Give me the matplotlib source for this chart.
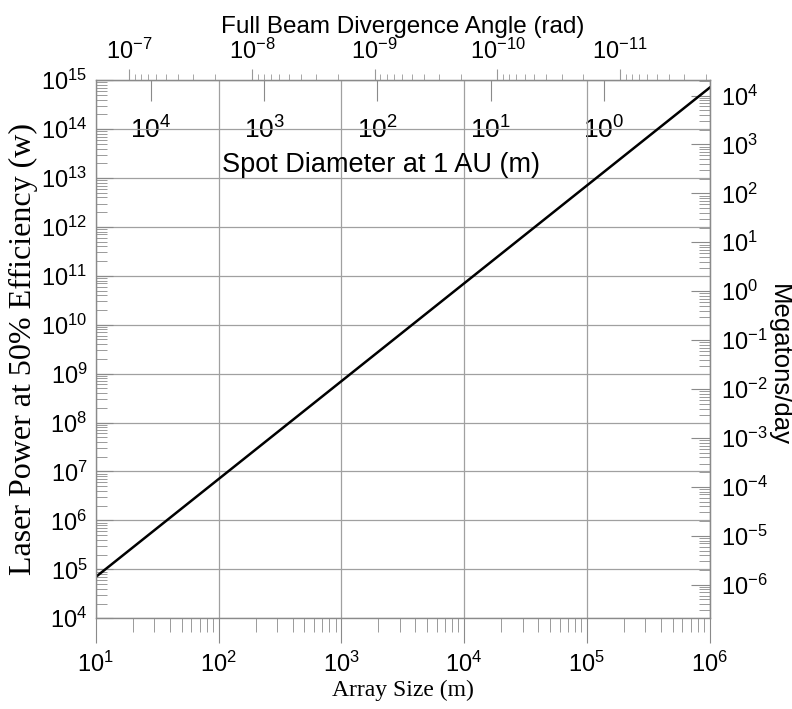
import numpy as np
import matplotlib
matplotlib.use('Agg')
import matplotlib.pyplot as plt
from matplotlib.ticker import LogLocator, NullLocator, FixedLocator, NullFormatter

# data
array_size = [1e1, 1e6]          # m
laser_power = [7e4, 7e14]        # W at 50% efficiency
x_ticks = [1e1, 1e2, 1e3, 1e4, 1e5, 1e6]
y_ticks = [1e4, 1e5, 1e6, 1e7, 1e8, 1e9, 1e10, 1e11, 1e12, 1e13, 1e14, 1e15]
mt_ticks = [1e-6, 1e-5, 1e-4, 1e-3, 1e-2, 1e-1, 1e0, 1e1, 1e2, 1e3, 1e4]
angle_ticks = [1e-7, 1e-8, 1e-9, 1e-10, 1e-11]
spot_ticks = [1e4, 1e3, 1e2, 1e1, 1e0]

# conversions as drawn on the figure
ANGLE_C = 1.87e-6                 # rad * m
SPOT_K, SPOT_EXP = 10**5.57, 1.084
MT_PER_W = 86400 / 4.184e15       # megatons/day per watt

plt.rcParams['mathtext.fontset'] = 'custom'
plt.rcParams['mathtext.rm'] = 'Liberation Sans'
plt.rcParams['axes.unicode_minus'] = False


def sup(v):
    return r'$\mathregular{10^{%d}}$' % int(round(np.log10(v)))


sans = 'Liberation Sans'
serif = 'Liberation Serif'
tick_fs = 17
grey = '#8a8a8a'

fig = plt.figure(figsize=(7.92, 7.09), dpi=100)
ax = fig.add_axes([0.121, 0.128, 0.775, 0.759])

ax.plot(array_size, laser_power, color='black', lw=1.8)
ax.set_xscale('log')
ax.set_yscale('log')
ax.set_xlim(1e1, 1e6)
ax.set_ylim(1e4, 1e15)
ax.grid(True, which='major', color='#a0a0a0', lw=0.9)
for s in ax.spines.values():
    s.set_color(grey)
    s.set_linewidth(1.0)

ax.xaxis.set_major_locator(FixedLocator(x_ticks))
ax.xaxis.set_minor_locator(LogLocator(base=10, subs=np.arange(2, 10)))
ax.set_xticklabels([sup(v) for v in x_ticks], fontsize=tick_fs, family=sans)
ax.xaxis.set_minor_formatter(NullFormatter())
ax.tick_params(axis='x', which='major', direction='out', length=18, color=grey, pad=6)
ax.tick_params(axis='x', which='minor', direction='out', length=10, color=grey)
ax.tick_params(axis='x', top=False, which='both')

ax.yaxis.set_major_locator(FixedLocator(y_ticks))
ax.yaxis.set_minor_locator(LogLocator(base=10, subs=np.arange(2, 10), numticks=30))
ax.set_yticklabels([sup(v) for v in y_ticks], fontsize=tick_fs, family=sans)
ax.yaxis.set_minor_formatter(NullFormatter())
ax.tick_params(axis='y', which='major', direction='in', length=12, color=grey, pad=6)
ax.tick_params(axis='y', which='minor', direction='in', length=8, color=grey)
ax.tick_params(axis='y', right=False, which='both')

ax.set_xlabel('Array Size (m)', family=serif, fontsize=17, labelpad=2)
ax.set_ylabel('Laser Power at 50% Efficiency (w)', family=serif, fontsize=23, labelpad=2)

# right axis: megatons per day
rax = ax.secondary_yaxis('right', functions=(lambda p: p * MT_PER_W, lambda m: m / MT_PER_W))
rax.yaxis.set_major_locator(FixedLocator(mt_ticks))
rax.yaxis.set_minor_locator(LogLocator(base=10, subs=np.arange(2, 10), numticks=30))
rax.yaxis.set_minor_formatter(NullFormatter())
rax.set_yticklabels([sup(v) for v in mt_ticks], fontsize=tick_fs, family=sans)
rax.tick_params(which='major', direction='in', length=14, color=grey, pad=8)
rax.tick_params(which='minor', direction='in', length=8, color=grey)
rax.spines['right'].set_color(grey)
fig.text(779 / 792, 1 - 365 / 709, 'Megatons/day', family=sans, fontsize=18.5,
         rotation=270, ha='center', va='center')

# top axis: full beam divergence angle
tax = ax.secondary_xaxis('top', functions=(lambda d: ANGLE_C / d, lambda a: ANGLE_C / a))
tax.xaxis.set_major_locator(FixedLocator(angle_ticks))
tax.xaxis.set_minor_locator(LogLocator(base=10, subs=np.arange(2, 10), numticks=30))
tax.xaxis.set_minor_formatter(NullFormatter())
tax.set_xticklabels([sup(v) for v in angle_ticks], fontsize=tick_fs, family=sans)
tax.tick_params(which='major', direction='out', length=8, color='#999999', pad=4)
tax.tick_params(which='minor', direction='out', length=4, color='#999999')
tax.spines['top'].set_color(grey)
tax.set_xlabel('Full Beam Divergence Angle (rad)', family=sans, fontsize=17.5, labelpad=4)

# inner top axis: spot diameter at 1 AU
sax = ax.secondary_xaxis(1.0, functions=(lambda d: SPOT_K * d ** (-SPOT_EXP),
                                         lambda s: (s / SPOT_K) ** (-1 / SPOT_EXP)))
sax.xaxis.set_major_locator(FixedLocator(spot_ticks))
sax.xaxis.set_minor_locator(NullLocator())
sax.set_xticklabels([sup(v) for v in spot_ticks], fontsize=tick_fs + 2, family=sans)
sax.tick_params(which='major', direction='in', length=15, color=grey, pad=-46)
sax.spines['top'].set_visible(False)

ax.text(0.464, 0.842, 'Spot Diameter at 1 AU (m)', transform=ax.transAxes, ha='center',
        va='center', family=sans, fontsize=19.5)

fig.savefig('out.png', dpi=100)
